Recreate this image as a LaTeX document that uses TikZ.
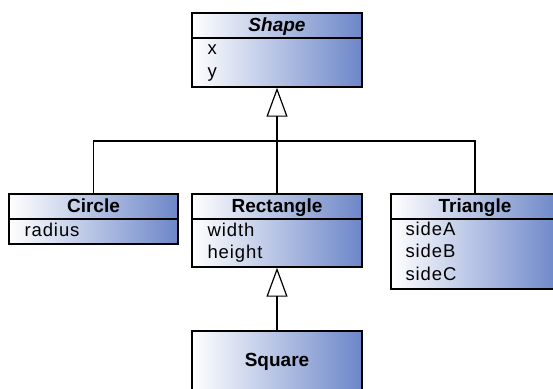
\documentclass[tikz,border=0pt]{standalone}
\usepackage{fontspec}
\setmainfont{Liberation Sans}
\newfontfamily\attrfont{Liberation Sans}[LetterSpace=5]
\usetikzlibrary{arrows.meta,positioning}

\definecolor{clsblue}{RGB}{108,134,200}

\begin{document}
\begin{tikzpicture}[
  x=1pt,y=-1pt,
  cls/.style={draw,line width=1.4pt,left color=white,right color=clsblue,
    minimum width=170pt,inner sep=0pt},
  head/.style={anchor=base,inner sep=0pt,font=\fontsize{19}{22}\selectfont\bfseries},
  attr/.style={anchor=base west,inner sep=0pt,font=\fontsize{18.5}{22}\attrfont},
  divider/.style={line width=1.8pt},
  link/.style={line width=1.2pt},
  inherit/.style={line width=1.2pt,-{Triangle[open,length=29pt,width=21pt,line width=1.2pt]}}
]
\clip (0,0) rectangle (553,388);

% classes
\node[cls,minimum height=74pt] (shape) at (277,50) {};
\node[cls,minimum width=169pt,minimum height=50pt] (circle) at (93.5,219) {};
\node[cls,minimum height=73pt] (rect) at (277,230.5) {};
\node[cls,minimum width=168pt,minimum height=95pt] (tri) at (475,241.5) {};
\node[cls,minimum height=60pt] (square) at (277,361) {};

% header lines
\foreach \c in {shape,circle,rect,tri}
  \draw[divider] ([yshift=-26pt]\c.north west) -- ([yshift=-26pt]\c.north east);

% names
\node[head] (shapeN) at ([yshift=-19pt]shape.north) {\textit{Shape}};
\node[head] (circleN) at ([yshift=-19pt]circle.north) {Circle};
\node[head] (rectN) at ([yshift=-19pt]rect.north) {Rectangle};
\node[head] (triN) at ([yshift=-19pt]tri.north) {Triangle};
\node[head] (squareN) at ([yshift=-36pt]square.north) {Square};

% attributes
\node[attr] (shapeX) at ([xshift=16pt,yshift=-42pt]shape.north west) {x};
\node[attr] (shapeY) at ([xshift=16pt,yshift=-65pt]shape.north west) {y};
\node[attr] (circleR) at ([xshift=16pt,yshift=-43pt]circle.north west) {radius};
\node[attr] (rectW) at ([xshift=16pt,yshift=-43pt]rect.north west) {width};
\node[attr] (rectH) at ([xshift=16pt,yshift=-65.5pt]rect.north west) {height};
\node[attr] (triA) at ([xshift=15pt,yshift=-42pt]tri.north west) {sideA};
\node[attr] (triB) at ([xshift=15pt,yshift=-64.5pt]tri.north west) {sideB};
\node[attr] (triC) at ([xshift=15pt,yshift=-87pt]tri.north west) {sideC};

% inheritance
\coordinate (bus) at (277,141);
\draw[link] (circle.north) |- (bus);
\draw[link] (tri.north) |- (bus);
\draw[inherit] (rect.north) -- (shape.south);
\draw[inherit] (square.north) -- (rect.south);
\end{tikzpicture}
\end{document}
